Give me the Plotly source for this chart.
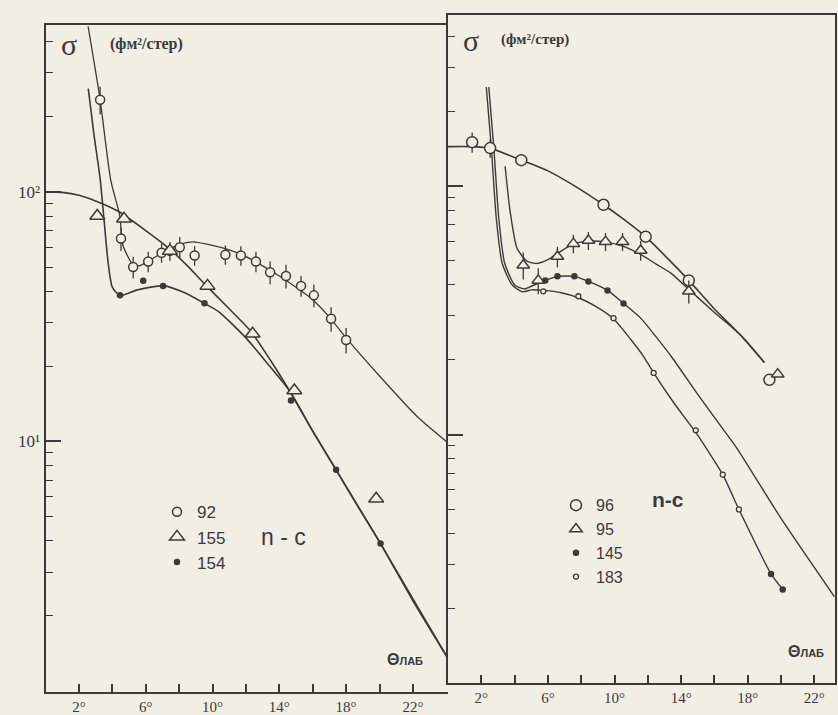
import plotly.graph_objects as go

# ---------------- data : left panel ----------------
# experimental points
th92 = [3.27, 4.52, 5.25, 6.15, 6.95, 7.45, 8.04, 8.93, 10.77, 11.7, 12.6, 13.45, 14.4, 15.3, 16.07, 17.1, 18.0]
sig92 = [234, 65, 50, 52.6, 57, 58, 60, 55.6, 56, 55.6, 52.6, 47.6, 46, 42, 38.5, 31, 25.5]
err92 = [30, 7, 5, 5, 5, 5, 6, 5, 5, 5, 5, 5, 5, 4, 4, 3.5, 3]

th155 = [3.1, 4.7, 7.45, 9.7, 12.4, 14.9, 19.8]
sig155 = [80, 78, 58, 42, 27, 16, 5.9]

th154 = [4.46, 5.85, 7.04, 9.52, 14.7, 17.4, 20.06]
sig154 = [38.5, 44, 42, 35.8, 14.6, 7.7, 3.9]

# fitted curves
fit92_th = [2.55, 3.27, 3.9, 4.45, 4.64, 5.2, 5.6, 6.2, 7.0, 8.0, 8.8, 10.0, 11.0, 12.0, 13.0, 14.0, 15.0, 16.0, 17.0, 18.0, 20.0, 22.3, 24.0]
fit92_sig = [460, 234, 112, 80, 61, 51.5, 50.5, 53, 57, 61.5, 63, 61, 58.5, 55, 50.5, 46, 41.5, 37, 31.5, 26, 18.3, 12.5, 10]

fit155_th = [0, 1, 2, 3, 4.3, 6, 7.44, 8.5, 9.64, 11, 12.3, 13.5, 14.6, 16, 17.4, 18.7, 20.06, 22, 24.1]
fit155_sig = [100, 99.5, 97, 92, 84, 70, 59, 50.5, 42, 34, 27.6, 21, 16, 11, 7.7, 5.5, 3.9, 2.3, 1.35]

fit154_th = [2.56, 2.9, 3.27, 3.5, 3.75, 4.0, 4.46, 5.5, 7.1, 8.3, 9.5, 10.4, 12.0, 13.3, 14.6, 16, 17.4, 20.06, 24.1]
fit154_sig = [259, 170, 113, 78, 52, 41.5, 38.5, 40.5, 42, 39.5, 35.8, 33, 26, 20.5, 16, 11, 7.7, 3.9, 1.35]

# ---------------- data : right panel ----------------
th96 = [1.45, 2.53, 4.4, 9.34, 11.87, 14.46, 19.3]
sig96 = [150, 142, 127, 84, 62.5, 41.7, 16.6]
err96 = [14, 12, 0, 0, 0, 0, 0]

th95 = [4.52, 5.42, 6.57, 7.53, 8.43, 9.46, 10.48, 11.57, 14.46, 19.8]
sig95 = [48, 41.7, 52, 58.6, 60.3, 59.7, 59.7, 55, 37.7, 17.5]
err95 = [6, 5, 5, 5, 5, 5, 5, 5, 4, 0]
lim95_th = [3.43]
lim95_sig = [185]

th145 = [5.84, 6.57, 7.59, 8.43, 9.58, 10.54, 19.4, 20.1]
sig145 = [41.7, 43.3, 43.3, 41.3, 38, 33.7, 2.75, 2.38]

th183 = [5.72, 7.83, 9.94, 12.35, 14.88, 16.5, 17.47]
sig183 = [37.7, 36, 29.4, 17.7, 10.4, 6.9, 5.0]

fit96_th = [0, 1.4, 2.5, 4.4, 6, 7.5, 9.34, 10.6, 11.87, 13.2, 14.46, 16, 17.6, 19.0]
fit96_sig = [144, 144, 142, 127, 115, 101, 84, 73, 62.5, 51, 41.7, 32, 25, 19.5]

fit95_th = [3.43, 3.73, 4.15, 4.76, 5.36, 6.0, 6.57, 7.53, 8.5, 9.34, 10.4, 11.57, 12.5, 13.4, 14.4, 16.0, 17.6, 19.0]
fit95_sig = [120, 79, 56, 49.7, 48.8, 50.5, 53.5, 58.5, 60, 59.7, 57.5, 53, 48.5, 44.5, 38.7, 31, 25, 19.5]

fit145_th = [2.45, 2.75, 3.05, 3.4, 4.0, 4.6, 5.0, 5.84, 6.57, 7.59, 8.43, 9.58, 10.54, 11.57, 12.5, 13.55, 15.0, 16.57, 17.4, 20.0, 23.2]
fit145_sig = [250, 143, 74, 49, 40, 38.5, 39.5, 41.7, 43.3, 43.3, 41.3, 38, 33.7, 29.4, 24.7, 20.0, 14.5, 10.4, 8.7, 4.6, 2.23]

fit183_th = [2.3, 2.6, 2.9, 3.25, 3.85, 4.5, 5.0, 5.72, 6.8, 7.83, 8.9, 9.94, 11.0, 11.75, 12.35, 13.6, 14.88, 16.5, 17.47, 19.4, 20.1]
fit183_sig = [250, 143, 74, 49, 40, 37.5, 38.2, 38, 37.2, 35.5, 32.7, 29.2, 24.0, 20.6, 17.7, 13.3, 10.2, 6.9, 5.0, 2.75, 2.38]

# axis tick labels
x_tickvals = [2, 4, 6, 8, 10, 12, 14, 16, 18, 20, 22]
x_ticktext = ["2°", "", "6°", "", "10°", "", "14°", "", "18°", "", "22°"]
y_tickvals = [10, 100]
y_ticktext = ["10¹", "10²"]
y_minor = [2, 3, 4, 5, 6, 7, 8, 9, 20, 30, 40, 50, 60, 70, 80, 90, 200, 300, 400]

# ---------------- styling ----------------
W, H = 838, 715
BG = "#f1efe4"
INK = "#3a3a3a"
SERIF = "Liberation Serif, DejaVu Serif, serif"
SANS = "Liberation Sans, Arial, sans-serif"

fig = go.Figure()


def curve(x, y, xa, ya, w=1.5):
    fig.add_trace(go.Scatter(x=x, y=y, mode="lines", xaxis=xa, yaxis=ya,
                             line=dict(color=INK, width=w, shape="spline", smoothing=0.6),
                             showlegend=False, hoverinfo="skip"))


def points(x, y, xa, ya, name, legend, symbol, size, filled, err=None, lw=1.5):
    mk = dict(symbol=symbol, size=size,
              color=INK if filled else BG,
              line=dict(color=INK, width=lw))
    kw = {}
    if err is not None:
        kw["error_y"] = dict(type="data", array=err, color=INK, thickness=1.3, width=0)
    fig.add_trace(go.Scatter(x=x, y=y, mode="markers", xaxis=xa, yaxis=ya, name=name,
                             legend=legend, marker=mk, showlegend=name is not None, **kw))


# left panel curves
curve(fit92_th, fit92_sig, "x", "y", 1.3)
curve(fit155_th, fit155_sig, "x", "y", 1.6)
curve(fit154_th, fit154_sig, "x", "y", 1.6)
# left panel points
points(th92, sig92, "x", "y", "92", "legend", "circle", 9, False, err92)
points(th155, sig155, "x", "y", "155", "legend", "triangle-up", 13, False)
points(th154, sig154, "x", "y", "154", "legend", "circle", 5, True)

# right panel curves
curve(fit96_th, fit96_sig, "x2", "y2", 1.6)
curve(fit95_th, fit95_sig, "x2", "y2", 1.4)
curve(fit145_th, fit145_sig, "x2", "y2", 1.4)
curve(fit183_th, fit183_sig, "x2", "y2", 1.4)
# right panel points
points(th96, sig96, "x2", "y2", "96", "legend2", "circle", 11, False, err96)
points(th95, sig95, "x2", "y2", "95", "legend2", "triangle-up", 11, False, err95)
points(lim95_th, lim95_sig, "x2", "y2", None, "legend2", "arrow-up-open", 10, False)
points(th145, sig145, "x2", "y2", "145", "legend2", "circle", 5, True)
points(th183, sig183, "x2", "y2", "183", "legend2", "circle", 5, False, None, 1.3)

# ---------------- axes ----------------
xcommon = dict(tickmode="array", tickvals=x_tickvals, ticktext=x_ticktext,
               ticks="inside", ticklen=8, tickwidth=1.5, tickcolor=INK,
               showline=True, linecolor=INK, linewidth=2, mirror=True,
               showgrid=False, zeroline=False,
               tickfont=dict(family=SERIF, size=15, color=INK))
ycommon = dict(type="log", tickmode="array", tickvals=y_tickvals,
               ticks="inside", ticklen=15, tickwidth=1.6, tickcolor=INK,
               minor=dict(tickmode="array", tickvals=y_minor, ticks="inside",
                          ticklen=7, tickwidth=1.4, tickcolor=INK, showgrid=False),
               showline=True, linecolor=INK, linewidth=2,
               showgrid=False, zeroline=False,
               tickfont=dict(family=SERIF, size=17, color=INK))

fig.update_layout(
    width=W, height=H, margin=dict(l=0, r=0, t=0, b=0),
    paper_bgcolor=BG, plot_bgcolor=BG,
    xaxis=dict(domain=[45.5 / W, 448 / W], range=[0, 24.1], anchor="y", **xcommon),
    yaxis=dict(domain=[(H - 696) / H, (H - 25) / H], range=[-0.004, 2.669], anchor="x",
               ticktext=y_ticktext, mirror=False, **ycommon),
    xaxis2=dict(domain=[448 / W, 835 / W], range=[0, 23.24], anchor="y2", **xcommon),
    yaxis2=dict(domain=[(H - 687) / H, (H - 15) / H], range=[0, 2.688], anchor="x2",
                showticklabels=False, mirror=True, **ycommon),
    legend=dict(x=157 / W, y=1 - 497 / H, xanchor="left", yanchor="top",
                bgcolor="rgba(0,0,0,0)", font=dict(family=SANS, size=17, color=INK),
                tracegroupgap=0, itemsizing="trace"),
    legend2=dict(x=556 / W, y=1 - 491 / H, xanchor="left", yanchor="top",
                 bgcolor="rgba(0,0,0,0)", font=dict(family=SANS, size=16, color=INK),
                 tracegroupgap=0, itemsizing="trace"),
    showlegend=True,
)

# ---------------- text ----------------
def note(x, y, text, size, family=SANS):
    fig.add_annotation(xref="paper", yref="paper", x=x / W, y=1 - y / H, text=text,
                       showarrow=False, xanchor="center", yanchor="middle",
                       font=dict(family=family, size=size, color=INK))

note(69, 45, "σ", 30, SERIF)
note(146, 44, "<b>(фм²/стер)</b>", 16, SERIF)
note(471, 41, "σ", 30, SERIF)
note(535, 40, "<b>(фм²/стер)</b>", 15, SERIF)
note(283, 540, "n - c", 23, SANS)
note(668, 502, "<b>n-c</b>", 21, SANS)
note(405, 663, "<b>Θ<span style='font-size:11px'>ЛАБ</span></b>", 16, SANS)
note(806, 655, "<b>Θ<span style='font-size:11px'>ЛАБ</span></b>", 16, SANS)

fig.write_html("out.html", config={"displayModeBar": False},
               post_script="document.body.style.margin='0px';")
